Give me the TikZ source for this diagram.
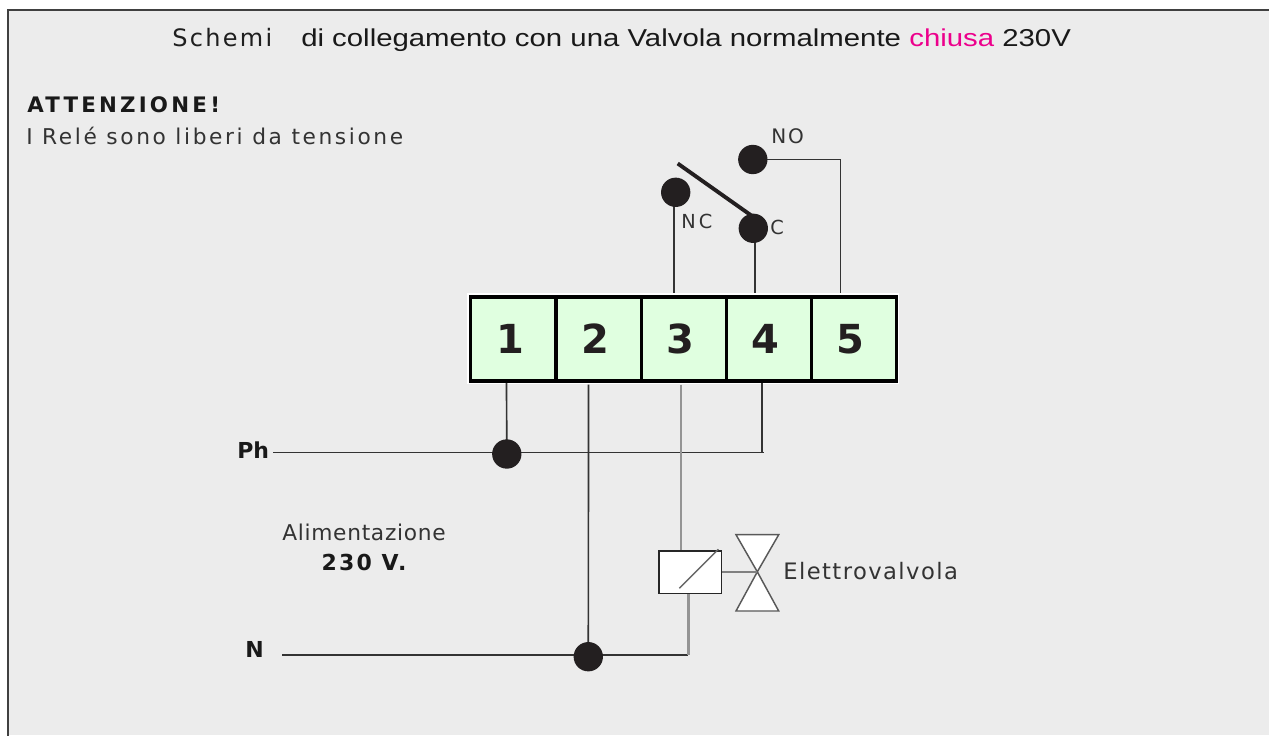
\documentclass[tikz,border=0pt]{standalone}
\usepackage{fontspec}
\setmainfont{DejaVu Sans}
\newfontfamily\arialf[FakeStretch=1.203]{Liberation Sans}
\definecolor{bgc}{HTML}{ECECEC}
\definecolor{inkc}{HTML}{231F20}
\definecolor{cellc}{HTML}{E0FFE0}
\definecolor{pinkc}{HTML}{EC008C}
\newcommand{\spc}[1]{\addfontfeature{LetterSpace=#1}}
\newcommand{\dig}[1]{\kern-5.2pt #1}
\pgfdeclarelayer{front}
\pgfsetlayers{main,front}
\tikzset{
  wire/.style={draw=black!80,line width=1.25pt},
  greywire/.style={draw=black!42,line width=1.5pt},
  dot/.style={circle,fill=inkc,draw=none,minimum size=22pt,inner sep=0pt},
  cell/.style={draw=black,fill=cellc,line width=2.4pt,minimum width=63.9pt,minimum height=63pt,inner sep=0pt,font=\fontsize{30}{32}\selectfont\bfseries,text=inkc},
  lbl/.style={inner sep=0pt,text=black!80},
}
\begin{document}
\begin{tikzpicture}[x=0.75pt,y=-0.75pt]
\useasboundingbox (0,0) rectangle (1269,735);
\fill[white] (0,0) rectangle (1269,735);
\fill[bgc] (7,10) rectangle (1269,735);
\draw[black!75,line width=1.5pt] (7.5,740) -- (7.5,10.5) -- (1269,10.5);
% title
\node[lbl,anchor=base west,text=black!88] (titleA) at (172,47) {\fontsize{18}{20}\selectfont\spc{9.7}Schemi};
\node[lbl,anchor=base west,text=black!90] (titleB) at (301,47) {\arialf\fontsize{18.3}{22}\selectfont di collegamento con una Valvola normalmente \textcolor{pinkc}{chiusa} 230V};
% notes
\node[lbl,anchor=base west,text=black!90] (att) at (27,112) {\fontsize{16}{18}\selectfont\bfseries\spc{15}ATTENZIONE\,!};
\node[lbl,anchor=base west] (rele) at (26,144) {\fontsize{16.3}{18}\selectfont\spc{12}I Relé sono liberi da tensione};
% terminals
\fill[white] (467,293) rectangle (899,384);
\node[cell] (t1) at (513.4,339) {\dig{1}};
\node[cell] (t2) at (598.6,339) {\dig{2}};
\node[cell] (t3) at (683.8,339) {\dig{3}};
\node[cell] (t4) at (769,339) {\dig{4}};
\node[cell] (t5) at (854.2,339) {\dig{5}};
% contacts
\begin{pgfonlayer}{front}
\node[dot] (nc) at (675.7,192.3) {};
\node[dot] (no) at (752.8,159.5) {};
\node[dot] (cc) at (753.3,228.3) {};
\node[dot] (j1) at (506.8,454) {};
\node[dot] (j2) at (588.3,656.7) {};
\coordinate (bladeEnd) at (677.7,163.5);
\coordinate (bladeRoot) at (752,216);
\draw[inkc,line width=2.9pt] (bladeEnd) -- (bladeRoot);
\end{pgfonlayer}
\coordinate (t3top) at (674,293);
\coordinate (t4top) at (754.7,293);
\coordinate (t5top) at (840.5,293);
\coordinate (nocorner) at (840.5,159.5);
\draw[wire] (nc.center -| t3top) -- (t3top);
\draw[wire] (cc.center -| t4top) -- (t4top);
\draw[wire] (no.center) -- (nocorner) -- (t5top);
\node[lbl,anchor=base west] (noL) at (771,143) {\fontsize{15}{18}\selectfont\spc{10}NO};
\node[lbl,anchor=base west] (ncL) at (681,228) {\fontsize{14.5}{18}\selectfont\spc{10}N\,C};
\node[lbl,anchor=base west] (cL) at (770,234) {\fontsize{14.5}{18}\selectfont C};
% supply
\node[lbl,anchor=base west,text=black!90] (ph) at (237,458) {\fontsize{16.5}{18}\selectfont\bfseries Ph};
\node[lbl,anchor=base west,text=black!90] (nn) at (245,657) {\fontsize{16.5}{18}\selectfont\bfseries N};
\coordinate (t1bot) at (506.5,383);
\coordinate (t2bot) at (588.5,384.5);
\coordinate (t4bot) at (762,383);
\coordinate (phcorner) at (762,452.5);
\coordinate (phend) at (764,452.5);
\coordinate (phstart) at (273,452.5);
\coordinate (nstart) at (282,655.3);
\draw[wire] (phstart) -- (phend);
\draw[wire] (phcorner) -- (t4bot);
\draw[wire] (t1bot) -- (j1.center);
\draw[wire] (t2bot) -- (j2.center);
% solenoid
\node[draw=black!85,fill=white,line width=1.1pt,minimum width=47pt,minimum height=31.7pt,inner sep=0pt] (coil) at (690.3,572.2) {};
\coordinate (coilIn) at (681,384.5);
\coordinate (ncorner) at (688.3,655.3);
\draw[greywire] (coilIn) -- (coil.north -| coilIn);
\draw[wire] (nstart) -- (ncorner);
\draw[greywire,line width=2.2pt] (coil.south -| ncorner) -- (ncorner);
\coordinate (slashA) at (679.3,588.3);
\coordinate (slashB) at (718.3,549.3);
\draw[black!60,line width=1.1pt] (slashA) -- (slashB);
% valve
\coordinate (vc) at (757.3,571.8);
\coordinate (vtl) at (736,534.7);
\coordinate (vtr) at (778.7,534.7);
\coordinate (vbl) at (736,611);
\coordinate (vbr) at (778.7,611);
\draw[black!65,line width=1.1pt,fill=white,line join=miter] (vtl) -- (vtr) -- (vc) -- cycle;
\draw[black!65,line width=1.1pt,fill=white,line join=miter] (vbl) -- (vbr) -- (vc) -- cycle;
\draw[black!50,line width=1.2pt] (coil.east |- vc) -- (vc);
\node[lbl,anchor=base west] (ev) at (783,579) {\fontsize{17}{20}\selectfont\spc{6.3}Elettrovalvola};
\node[lbl,anchor=base,text=black!80] (ali) at (364,540) {\fontsize{16.3}{20}\selectfont\spc{3.2}Alimentazione};
\node[lbl,anchor=base,text=black!90] (v230) at (364,570) {\fontsize{16.5}{18}\selectfont\bfseries\spc{10}230 V.};
\end{tikzpicture}
\end{document}
